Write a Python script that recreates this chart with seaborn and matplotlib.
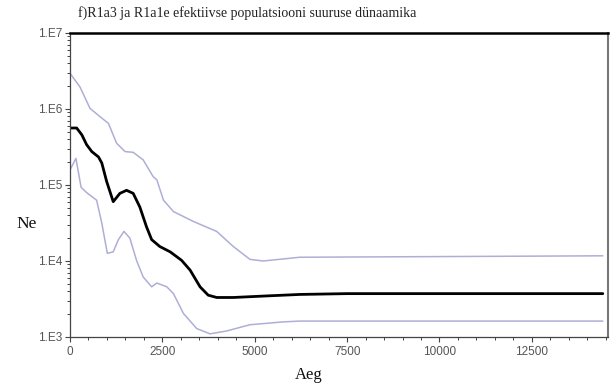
import numpy as np
import pandas as pd
import matplotlib
matplotlib.use("Agg")
import matplotlib.pyplot as plt
import matplotlib.ticker as mticker
import seaborn as sns

# Median Ne (black)
median_x = [0, 180, 320, 450, 590, 770, 860, 990, 1170, 1350, 1530, 1710, 1890, 2070,
            2210, 2430, 2710, 3020, 3250, 3520, 3740, 3970, 4420, 5320, 6220, 7500, 14420]
median_ne = [562000, 562000, 457000, 339000, 275000, 234000, 195000, 112000, 60300, 77600,
             85100, 77600, 51300, 28200, 19100, 15500, 13200, 10200, 7590, 4570, 3550,
             3310, 3310, 3470, 3630, 3720, 3720]

# Upper 95% HPD
upper_x = [0, 270, 540, 810, 1040, 1260, 1490, 1710, 1980, 2250, 2350, 2530, 2800, 3340,
           3970, 4420, 4870, 5230, 6220, 14420]
upper_ne = [2950000, 1950000, 1020000, 794000, 646000, 355000, 275000, 269000, 214000,
            129000, 117000, 63100, 44700, 33100, 24500, 15500, 10500, 10000, 11200, 11700]

# Lower 95% HPD
lower_x = [0, 160, 300, 450, 720, 860, 1010, 1170, 1310, 1460, 1620, 1800, 1980, 2210,
           2350, 2620, 2800, 3070, 3430, 3790, 4240, 4870, 5770, 6220, 14420]
lower_ne = [158000, 224000, 93300, 79400, 63100, 31600, 12600, 13200, 19100, 24500, 20000,
            10200, 6170, 4570, 5130, 4570, 3720, 2040, 1290, 1100, 1200, 1450, 1580, 1620, 1620]

x_ticks = [0, 2500, 5000, 7500, 10000, 12500]
y_ticks = [1e3, 1e4, 1e5, 1e6, 1e7]

title = "f)R1a3 ja R1a1e efektiivse populatsiooni suuruse dünaamika"

sns.set_style("white")
fig = plt.figure(figsize=(6.13, 3.89), dpi=100)
ax = fig.add_axes([0.1142, 0.1337, 0.8776, 0.7815])

band_color = "#aeaed6"
sns.lineplot(x=upper_x, y=upper_ne, ax=ax, color=band_color, lw=1.1)
sns.lineplot(x=lower_x, y=lower_ne, ax=ax, color=band_color, lw=1.1)
sns.lineplot(x=median_x, y=median_ne, ax=ax, color="black", lw=2.0)

ax.set_yscale("log")
ax.set_ylim(1e3, 1e7)
ax.set_xlim(0, 14560)
ax.set_xticks(x_ticks)
ax.xaxis.set_minor_locator(mticker.MultipleLocator(500))
ax.set_yticks(y_ticks)
ax.yaxis.set_major_formatter(mticker.FuncFormatter(lambda v, p: "1.E%d" % round(np.log10(v))))
ax.yaxis.set_minor_locator(mticker.LogLocator(base=10, subs=np.arange(2, 10)))
ax.yaxis.set_minor_formatter(mticker.NullFormatter())

ax.tick_params(axis="both", which="both", bottom=True, left=True, top=False, right=False)
ax.tick_params(axis="both", which="major", direction="out", length=3.5, width=0.8,
               colors="#444444", labelsize=8.5, labelcolor="#555555", pad=2)
ax.tick_params(axis="both", which="minor", direction="out", length=2, width=0.7, colors="#444444")
ax.tick_params(axis="x", which="major", pad=3)
for lab in ax.get_xticklabels() + ax.get_yticklabels():
    lab.set_family(["Liberation Sans", "DejaVu Sans"])

for side in ["left", "bottom"]:
    ax.spines[side].set_color("#444444")
    ax.spines[side].set_linewidth(0.9)
ax.spines["top"].set_color("black")
ax.spines["top"].set_linewidth(1.8)
ax.spines["right"].set_color("#777777")
ax.spines["right"].set_linewidth(1.5)

serif = ["Liberation Serif", "DejaVu Serif"]
fig.text(0.128, 0.966, title, family=serif, fontsize=10, color="#222222", ha="left", va="center")
fig.text(0.043, 0.425, "Ne", family=serif, fontsize=12.5, color="#111111", ha="center", va="center")
fig.text(0.503, 0.035, "Aeg", family=serif, fontsize=12, color="#111111", ha="center", va="center")

fig.savefig("out.png", dpi=100)
